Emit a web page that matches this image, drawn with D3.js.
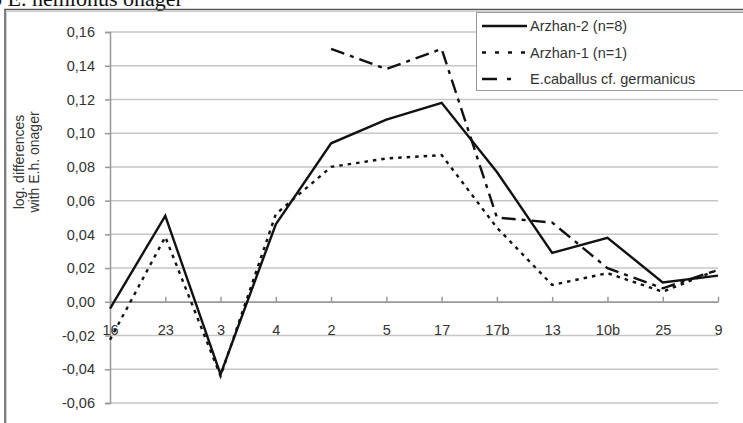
<!DOCTYPE html>
<html>
<head>
<meta charset="utf-8">
<script src="https://cdn.jsdelivr.net/npm/d3@7"></script>
<style>
  body { margin: 0; background: #fff; }
  svg { display: block; }
  text { font-family: 'Liberation Sans', Arial, sans-serif; fill: #333; }
</style>
</head>
<body>
<div id="chart"></div>
<script>
const categories = ['16', '23', '3', '4', '2', '5', '17', '17b', '13', '10b', '25', '9']
const arzhan2 = [-0.004, 0.051, -0.043, 0.046, 0.094, 0.108, 0.118, 0.077, 0.029, 0.038, 0.0115, 0.0155]
const arzhan1 = [-0.0225, 0.0385, -0.044, 0.052, 0.080, 0.085, 0.087, 0.044, 0.010, 0.017, 0.006, 0.019]
const caballus = [null, null, null, null, 0.150, 0.138, 0.150, 0.050, 0.047, 0.020, 0.008, 0.019]
const yTicks = [-0.06, -0.04, -0.02, 0, 0.02, 0.04, 0.06, 0.08, 0.10, 0.12, 0.14, 0.16]

const series = [
  { name: 'Arzhan-2 (n=8)', values: arzhan2, dash: null, legendDash: null },
  { name: 'Arzhan-1 (n=1)', values: arzhan1, dash: '3.5,5', legendDash: '4,9' },
  { name: 'E.caballus cf. germanicus', values: caballus, dash: '14,6,4,6', legendDash: '15,10,4,20' },
]

const chartWidth = 743
const chartHeight = 423

const svg = d3.select('#chart')
  .append('svg')
    .attr('width', chartWidth)
    .attr('height', chartHeight)

// caption cut off at the top of the page
svg.append('text')
  .attr('x', -9)
  .attr('y', 6)
  .style('font-family', "'Liberation Serif', 'Times New Roman', serif")
  .style('font-size', '22px')
  .style('fill', '#111')
  .text('o E. hemionus onager')

// outer frame
svg.append('path')
  .attr('d', `M5,${chartHeight} V9.5 H${chartWidth}`)
  .attr('fill', 'none')
  .attr('stroke', '#555')
  .attr('stroke-width', 1.5)
svg.append('path')
  .attr('d', `M6.5,${chartHeight} V11.5 H${chartWidth}`)
  .attr('fill', 'none')
  .attr('stroke', '#ccc')
  .attr('stroke-width', 1)

const x = d3.scalePoint()
  .domain(categories)
  .range([110, 718])

const y = d3.scaleLinear()
  .domain([-0.06, 0.16])
  .range([403, 32])

const fmt = v => d3.format('.2f')(v).replace('.', ',').replace('−', '-')

// gridlines
svg.append('g')
  .selectAll('line')
  .data(yTicks)
  .enter()
  .append('line')
    .attr('x1', x.range()[0])
    .attr('x2', x.range()[1])
    .attr('y1', d => y(d))
    .attr('y2', d => y(d))
    .attr('stroke', '#c6c6c6')
    .attr('stroke-width', 1.5)

// y axis
const yAxis = svg.append('g')
  .attr('transform', `translate(${x.range()[0]}, 0)`)
  .call(d3.axisLeft(y).tickValues(yTicks).tickFormat(fmt).tickSize(5).tickPadding(10))
yAxis.select('.domain').attr('stroke', '#999').attr('stroke-width', 1.5)
yAxis.selectAll('.tick line').attr('stroke', '#999').attr('stroke-width', 1.5)
yAxis.selectAll('.tick text')
  .style('font-size', '14.5px')
  .style('font-family', "'Liberation Sans', Arial, sans-serif")
  .attr('fill', '#333')

// x axis at zero, ticks pointing up, labels below
const xAxis = svg.append('g')
  .attr('transform', `translate(0, ${y(0)})`)
  .call(d3.axisBottom(x).tickSize(-5).tickSizeOuter(0).tickPadding(0))
xAxis.select('.domain').attr('stroke', '#999').attr('stroke-width', 1.5)
xAxis.selectAll('.tick line').attr('stroke', '#999').attr('stroke-width', 1.5)
xAxis.selectAll('.tick text')
  .attr('y', 33)
  .attr('dy', 0)
  .style('font-size', '14.5px')
  .style('font-family', "'Liberation Sans', Arial, sans-serif")
  .attr('fill', '#333')

// axis title
svg.append('text')
  .attr('transform', 'translate(26, 162) rotate(-90)')
  .attr('text-anchor', 'middle')
  .style('font-size', '14px')
  .selectAll('tspan')
  .data(['log. differences', 'with E.h. onager'])
  .enter()
  .append('tspan')
    .attr('x', 0)
    .attr('dy', (d, i) => i === 0 ? '-0.15em' : '1.1em')
    .text(d => d)

// lines
const line = d3.line()
  .defined(d => d.v !== null)
  .x(d => x(d.c))
  .y(d => y(d.v))

series.forEach(s => {
  svg.append('path')
    .attr('d', line(categories.map((c, i) => ({ c, v: s.values[i] }))))
    .attr('fill', 'none')
    .attr('stroke', '#111')
    .attr('stroke-width', 2.4)
    .attr('stroke-dasharray', s.dash)
})

// legend
svg.append('rect')
  .attr('x', 476.5)
  .attr('y', 12.5)
  .attr('width', 280)
  .attr('height', 78)
  .attr('fill', '#fff')
  .attr('stroke', '#999')
  .attr('stroke-width', 1)

const legend = svg.append('g')

series.forEach((s, i) => {
  const ly = 26 + i * 26.5
  legend.append('line')
    .attr('x1', 482)
    .attr('x2', 527)
    .attr('y1', ly)
    .attr('y2', ly)
    .attr('stroke', '#111')
    .attr('stroke-width', 2.4)
    .attr('stroke-dasharray', s.legendDash)
  legend.append('text')
    .attr('x', 530)
    .attr('y', ly + 5)
    .style('font-size', '14.5px')
    .text(s.name)
})
</script>
</body>
</html>
